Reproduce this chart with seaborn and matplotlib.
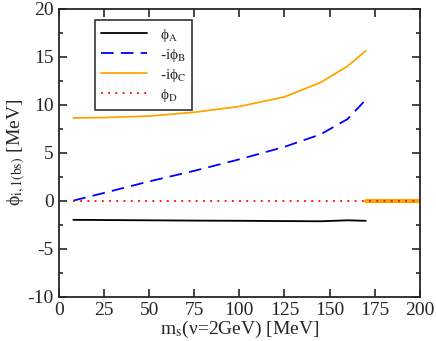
import numpy as np
import pandas as pd
import matplotlib
matplotlib.use("Agg")
import matplotlib.pyplot as plt
import seaborn as sns
from matplotlib.ticker import MultipleLocator

# values
ms = [8, 25, 50, 75, 100, 125, 145, 160, 170]
phi_a = [-2.0, -2.02, -2.05, -2.08, -2.1, -2.13, -2.15, -2.05, -2.1]
phi_b = [0.0, 0.8, 2.0, 3.1, 4.3, 5.6, 6.9, 8.5, 10.5]
phi_c = [8.6, 8.65, 8.8, 9.2, 9.8, 10.8, 12.3, 14.0, 15.6]
ms_d = [8, 200]
phi_d = [0.0, 0.0]
ms_tail = [170, 200]
phi_tail = [0.0, 0.0]

sns.set_style("ticks")
plt.rcParams['font.family'] = ['Liberation Serif', 'DejaVu Serif']
plt.rcParams['mathtext.fontset'] = 'stix'
plt.rcParams['axes.unicode_minus'] = False

df = pd.DataFrame({'ms': ms, 'a': phi_a, 'b': phi_b, 'c': phi_c})

fig, ax = plt.subplots(figsize=(4.36, 3.41), dpi=100)
sns.lineplot(x=ms_tail, y=phi_tail, color='orange', lw=3, ax=ax)
sns.lineplot(data=df, x='ms', y='a', color='black', lw=1.3, ax=ax, label='ϕ$_{\\rm A}$')
sns.lineplot(data=df, x='ms', y='b', color='blue', lw=1.3, ax=ax, label='-iϕ$_{\\rm B}$',
             linestyle=(0, (7, 4)))
sns.lineplot(data=df, x='ms', y='c', color='orange', lw=1.3, ax=ax, label='-iϕ$_{\\rm C}$')
sns.lineplot(x=ms_d, y=phi_d, color='red', lw=1.3, ax=ax, label='ϕ$_{\\rm D}$',
             linestyle=(0, (1, 3)))

ax.set_xlim(0, 200)
ax.set_ylim(-10, 20)
ax.xaxis.set_major_locator(MultipleLocator(25))
ax.yaxis.set_major_locator(MultipleLocator(5))
ax.yaxis.set_minor_locator(MultipleLocator(2.5))
ax.tick_params(which='both', direction='in', top=True, right=True, labelsize=14, width=1.2)
ax.tick_params(which='major', length=6)
ax.tick_params(which='minor', length=3)
for s in ax.spines.values():
    s.set_linewidth(1.3)
ax.set_xlabel('m$_{\\rm s}$(ν=2GeV) [MeV]', fontsize=14, labelpad=0)
ax.set_ylabel('ϕ$_{\\rm i,1(bs)}$ [MeV]', fontsize=14, labelpad=0)

leg = ax.legend(loc='upper left', bbox_to_anchor=(0.08, 0.985), fontsize=11,
                frameon=True, fancybox=False, edgecolor='black', handlelength=3,
                borderpad=0.4, labelspacing=0.2)
leg.get_frame().set_linewidth(1.2)

plt.subplots_adjust(left=0.135, right=0.963, top=0.975, bottom=0.13)
plt.savefig('out.png', dpi=100)
